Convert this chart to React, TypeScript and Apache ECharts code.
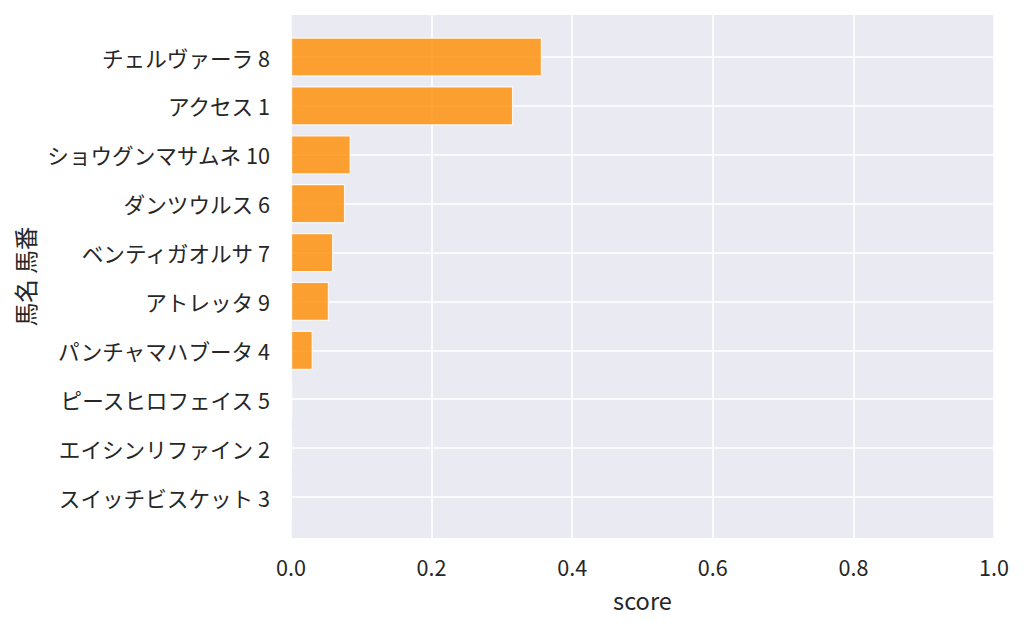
import React, { useEffect, useRef } from "react";
import * as echarts from "echarts";

const categories: string[] = [
  "チェルヴァーラ 8",
  "アクセス 1",
  "ショウグンマサムネ 10",
  "ダンツウルス 6",
  "ベンティガオルサ 7",
  "アトレッタ 9",
  "パンチャマハブータ 4",
  "ピースヒロフェイス 5",
  "エイシンリファイン 2",
  "スイッチビスケット 3",
];
const scores: number[] = [0.357, 0.316, 0.085, 0.077, 0.06, 0.054, 0.031, 0.002, 0.0015, 0.0006];
const xTicks: number[] = [0, 0.2, 0.4, 0.6, 0.8, 1.0];
const xTitle = "score";
const yTitle = "馬名 馬番";

const FONT = "Noto Sans CJK JP";
const TXT = "#262626";
const TICK_FS = 21.6;
const TITLE_FS = 23.6;

export default function App() {
  const ref = useRef<HTMLDivElement>(null);
  useEffect(() => {
    if (!ref.current) return;
    const chart = echarts.init(ref.current, undefined, { renderer: "svg" });
    const L = 291, W = 703;
    const bgTop = 15, bgH = 523;
    const n = categories.length;
    const firstC = 57, lastC = 497;
    const step = (lastC - firstC) / (n - 1);
    chart.setOption({
      animation: false,
      textStyle: { fontFamily: FONT },
      grid: [
        { left: L, top: bgTop, width: W, height: bgH, show: true, backgroundColor: "#EAEAF2", borderWidth: 0 },
        { left: L, top: firstC, width: W, height: lastC - firstC, show: false },
        { left: L, top: firstC - step / 2, width: W, height: step * n, show: false },
      ],
      xAxis: [
        {
          gridIndex: 0,
          type: "value",
          min: xTicks[0],
          max: xTicks[xTicks.length - 1],
          interval: 0.2,
          axisLine: { show: false },
          axisTick: { show: false },
          axisLabel: {
            fontSize: TICK_FS,
            color: TXT,
            fontFamily: FONT,
            margin: 18,
            formatter: (v: number) => v.toFixed(1),
          },
          splitLine: { show: true, lineStyle: { color: "#ffffff", width: 1.6 } },
        },
        { gridIndex: 1, type: "value", min: 0, max: 1, show: false },
        { gridIndex: 2, type: "value", min: 0, max: 1, show: false },
      ],
      yAxis: [
        { gridIndex: 0, type: "value", show: false, splitLine: { show: false } },
        {
          gridIndex: 1,
          type: "value",
          min: 0,
          max: n - 1,
          interval: 1,
          inverse: true,
          axisLine: { show: false },
          axisTick: { show: false },
          axisLabel: { show: false },
          splitLine: { show: true, lineStyle: { color: "#ffffff", width: 1.6 } },
        },
        {
          gridIndex: 2,
          type: "category",
          data: categories,
          inverse: true,
          axisLine: { show: false },
          axisTick: { show: false },
          splitLine: { show: false },
          axisLabel: { fontSize: TICK_FS, color: TXT, fontFamily: FONT, margin: 21 },
        },
      ],
      series: [
        {
          type: "bar",
          xAxisIndex: 2,
          yAxisIndex: 2,
          data: scores,
          barWidth: "80%",
          itemStyle: { color: "rgba(255,140,0,0.8)", borderColor: "rgba(255,255,255,0.85)", borderWidth: 1.2 },
        },
      ],
      graphic: [
        {
          type: "text",
          x: L + W / 2,
          y: 600,
          style: { text: xTitle, fontSize: TITLE_FS, fill: TXT, fontFamily: FONT, align: "center", verticalAlign: "middle" },
        },
        {
          type: "text",
          x: 25,
          y: bgTop + bgH / 2,
          rotation: Math.PI / 2,
          style: {
            text: yTitle,
            fontSize: TITLE_FS,
            fill: TXT,
            fontFamily: FONT,
            align: "center",
            verticalAlign: "middle",
          },
        },
      ],
    });
    return () => chart.dispose();
  }, []);
  return <div ref={ref} style={{ position: "absolute", left: 0, top: 0, width: 1024, height: 627 }} />;
}
